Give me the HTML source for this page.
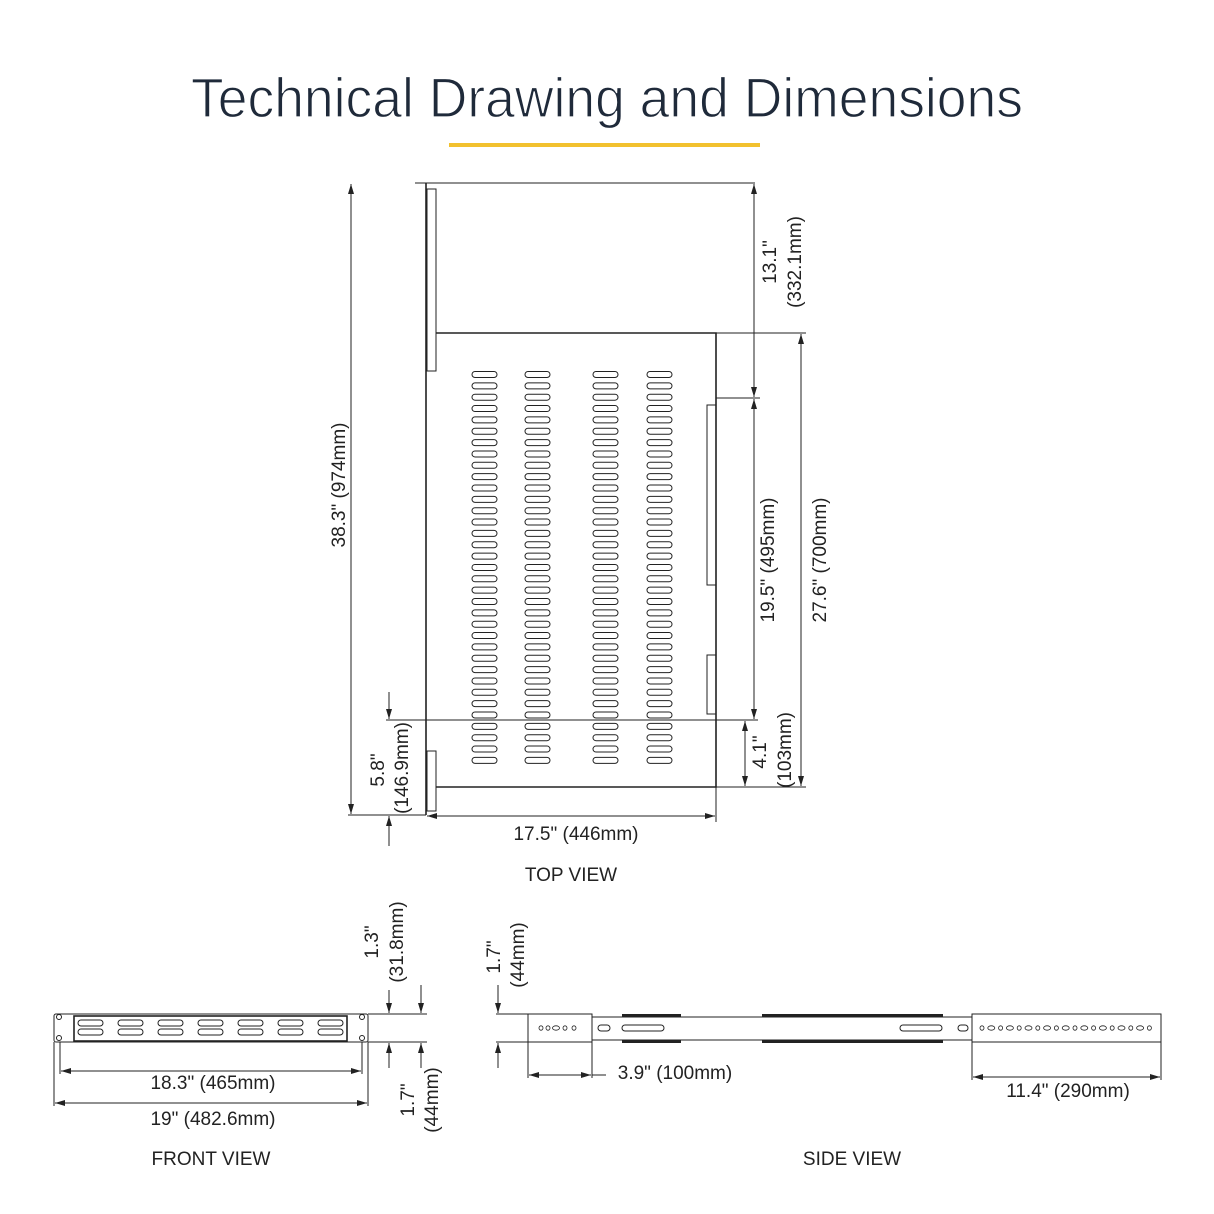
<!DOCTYPE html>
<html><head><meta charset="utf-8"><style>
html,body{margin:0;padding:0;background:#fff}
svg{display:block}
text{font-family:"Liberation Sans",sans-serif;fill:#222}
</style></head><body>
<svg width="1214" height="1214" viewBox="0 0 1214 1214" xmlns="http://www.w3.org/2000/svg">
<defs>
<marker id="a" viewBox="0 0 10 6" refX="10" refY="3" markerWidth="10" markerHeight="6" orient="auto-start-reverse" markerUnits="userSpaceOnUse"><path d="M0,0 L10,3 L0,6 z" fill="#222"/></marker>
</defs>
<text x="607" y="117" font-size="56" text-anchor="middle" textLength="832" lengthAdjust="spacingAndGlyphs" style="fill:#1f2a3a;stroke:#fff;stroke-width:1.2px">Technical Drawing and Dimensions</text>
<rect x="449" y="143" width="311" height="4" fill="#f2c12e"/>

<g stroke="#222" fill="none" stroke-width="1">
<line x1="415" y1="183" x2="755" y2="183"/>
<line x1="426" y1="183" x2="426" y2="815" stroke-width="1.6"/>
<rect x="427" y="189" width="9" height="182"/>
<rect x="427" y="751" width="9" height="60"/>
<path d="M436 333 H716 V787 H436" stroke-width="1.6"/>
<rect x="707" y="405" width="9" height="180"/>
<rect x="707" y="655" width="9" height="59"/>
<line x1="351" y1="184" x2="351" y2="814" marker-start="url(#a)" marker-end="url(#a)"/>
<line x1="348" y1="815" x2="426" y2="815"/>
<line x1="754" y1="184" x2="754" y2="397" marker-start="url(#a)" marker-end="url(#a)"/>
<line x1="754" y1="399" x2="754" y2="719" marker-start="url(#a)" marker-end="url(#a)"/>
<line x1="716" y1="398" x2="760" y2="398"/>
<line x1="716" y1="333" x2="806" y2="333"/>
<line x1="716" y1="787" x2="806" y2="787"/>
<line x1="801" y1="334" x2="801" y2="786" marker-start="url(#a)" marker-end="url(#a)"/>
<line x1="745" y1="721" x2="745" y2="786" marker-start="url(#a)" marker-end="url(#a)"/>
<line x1="386" y1="720" x2="758" y2="720"/>
<line x1="389" y1="692" x2="389" y2="719" marker-end="url(#a)"/>
<line x1="389" y1="846" x2="389" y2="816" marker-end="url(#a)"/>
<line x1="716" y1="787" x2="716" y2="822"/>
<line x1="427" y1="816" x2="715" y2="816" marker-start="url(#a)" marker-end="url(#a)"/>

<rect x="54" y="1014" width="314" height="28" rx="2"/>
<rect x="74" y="1016" width="273" height="25" stroke-width="1.6"/>
<circle cx="59" cy="1017" r="2.5"/><circle cx="59" cy="1038" r="2.5"/>
<circle cx="362" cy="1017" r="2.5"/><circle cx="362" cy="1038" r="2.5"/>
<line x1="54" y1="1042" x2="54" y2="1106"/><line x1="368" y1="1042" x2="368" y2="1106"/>
<line x1="60" y1="1042" x2="60" y2="1074"/><line x1="362" y1="1042" x2="362" y2="1074"/>
<line x1="61" y1="1071" x2="361" y2="1071" marker-start="url(#a)" marker-end="url(#a)"/>
<line x1="55" y1="1103" x2="367" y2="1103" marker-start="url(#a)" marker-end="url(#a)"/>
<line x1="368" y1="1014" x2="427" y2="1014"/>
<line x1="368" y1="1042" x2="427" y2="1042"/>
<line x1="389" y1="990" x2="389" y2="1013" marker-end="url(#a)"/>
<line x1="389" y1="1068" x2="389" y2="1043" marker-end="url(#a)"/>
<line x1="421" y1="985" x2="421" y2="1013" marker-end="url(#a)"/>
<line x1="421" y1="1068" x2="421" y2="1043" marker-end="url(#a)"/>

<line x1="496" y1="1014" x2="528" y2="1014"/>
<line x1="496" y1="1042" x2="528" y2="1042"/>
<line x1="498" y1="985" x2="498" y2="1013" marker-end="url(#a)"/>
<line x1="498" y1="1068" x2="498" y2="1043" marker-end="url(#a)"/>
<rect x="528" y="1014" width="64" height="28"/>
<rect x="592" y="1017" width="380" height="23"/>
<rect x="972" y="1014" width="189" height="28"/>
<line x1="528" y1="1042" x2="528" y2="1078"/><line x1="592" y1="1042" x2="592" y2="1078"/>
<line x1="529" y1="1075" x2="591" y2="1075" marker-start="url(#a)" marker-end="url(#a)"/>
<line x1="592" y1="1075" x2="606" y2="1075"/>
<line x1="972" y1="1042" x2="972" y2="1080"/><line x1="1161" y1="1042" x2="1161" y2="1080"/>
<line x1="973" y1="1077" x2="1160" y2="1077" marker-start="url(#a)" marker-end="url(#a)"/>
<rect x="598" y="1025" width="12" height="6" rx="3"/>
<rect x="622" y="1025" width="42" height="6" rx="3"/>
<rect x="900" y="1025" width="42" height="6" rx="3"/>
<rect x="958" y="1025" width="10" height="6" rx="3"/>
</g>
<g fill="#222">
<rect x="622" y="1014" width="59" height="3"/><rect x="622" y="1040" width="59" height="3"/>
<rect x="762" y="1014" width="181" height="3"/><rect x="762" y="1040" width="181" height="3"/>
</g>
<g id="slots" fill="none" stroke="#222" stroke-width="1"></g>
<g id="fslots" fill="none" stroke="#222" stroke-width="1"></g>
<g id="holes" fill="none" stroke="#222" stroke-width="0.8"></g>

<g font-size="19">
<text transform="translate(345,485) rotate(-90)" text-anchor="middle">38.3" (974mm)</text>
<text transform="translate(776,262) rotate(-90)" text-anchor="middle">13.1"</text>
<text transform="translate(801,262) rotate(-90)" text-anchor="middle">(332.1mm)</text>
<text transform="translate(774,560) rotate(-90)" text-anchor="middle">19.5" (495mm)</text>
<text transform="translate(826,560) rotate(-90)" text-anchor="middle">27.6" (700mm)</text>
<text transform="translate(766,752) rotate(-90)" text-anchor="middle">4.1"</text>
<text transform="translate(791,750) rotate(-90)" text-anchor="middle">(103mm)</text>
<text transform="translate(384,770) rotate(-90)" text-anchor="middle">5.8"</text>
<text transform="translate(408,768) rotate(-90)" text-anchor="middle">(146.9mm)</text>
<text x="576" y="840" text-anchor="middle">17.5" (446mm)</text>
<text x="571" y="881" text-anchor="middle">TOP VIEW</text>
<text transform="translate(378,942) rotate(-90)" text-anchor="middle">1.3"</text>
<text transform="translate(403,942) rotate(-90)" text-anchor="middle">(31.8mm)</text>
<text x="213" y="1089" text-anchor="middle">18.3" (465mm)</text>
<text x="213" y="1125" text-anchor="middle">19" (482.6mm)</text>
<text transform="translate(414,1100) rotate(-90)" text-anchor="middle">1.7"</text>
<text transform="translate(438,1100) rotate(-90)" text-anchor="middle">(44mm)</text>
<text x="211" y="1165" text-anchor="middle">FRONT VIEW</text>
<text transform="translate(500,957) rotate(-90)" text-anchor="middle">1.7"</text>
<text transform="translate(524,955) rotate(-90)" text-anchor="middle">(44mm)</text>
<text x="675" y="1079" text-anchor="middle">3.9" (100mm)</text>
<text x="1068" y="1097" text-anchor="middle">11.4" (290mm)</text>
<text x="852" y="1165" text-anchor="middle">SIDE VIEW</text>
</g>
<script>
var ns="http://www.w3.org/2000/svg",g=document.getElementById("slots");
[472,525,593,647].forEach(function(x){for(var i=0;i<35;i++){var r=document.createElementNS(ns,"rect");var y=371.5+i*11.35;r.setAttribute("x",x);r.setAttribute("y",y);r.setAttribute("width",25);r.setAttribute("height",6);r.setAttribute("rx",3);g.appendChild(r);}});
var f=document.getElementById("fslots");
for(var c=0;c<7;c++){[1020,1029].forEach(function(y){var r=document.createElementNS(ns,"rect");r.setAttribute("x",78+c*40);r.setAttribute("y",y);r.setAttribute("width",25);r.setAttribute("height",6);r.setAttribute("rx",3);f.appendChild(r);});}
var h=document.getElementById("holes");
function ho(cx,rx){var e=document.createElementNS(ns,"ellipse");e.setAttribute("cx",cx);e.setAttribute("cy",1028);e.setAttribute("rx",rx);e.setAttribute("ry",2.2);h.appendChild(e);}
[541,548,556,565,574].forEach(function(x,i){ho(x,i==2?3.5:2);});
for(var i=0;i<19;i++){ho(982+i*9.3,i%2?3.5:2);}
</script>
</svg>
</body></html>
